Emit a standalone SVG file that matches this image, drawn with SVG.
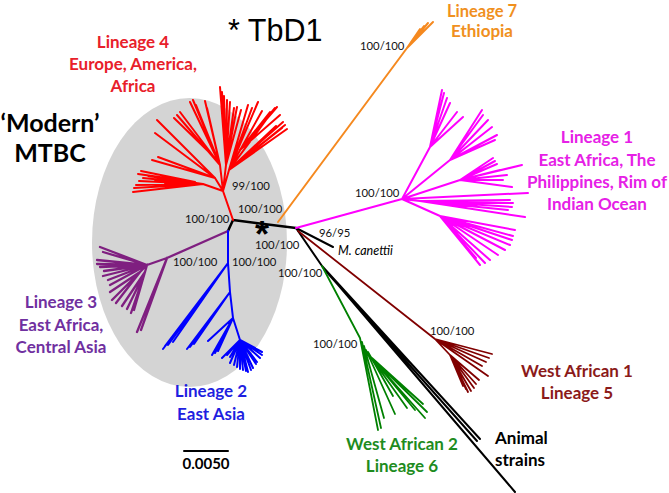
<svg xmlns="http://www.w3.org/2000/svg" width="669" height="493" viewBox="0 0 669 493">
<style>
.lbl{font-family:Lato,"Liberation Sans",sans-serif;font-weight:bold;font-size:17px;text-anchor:middle}
.bs{font-family:Lato,"Liberation Sans",sans-serif;font-size:11.3px;fill:#111}
.br{fill:none;stroke-linecap:round;stroke-linejoin:round}
</style>
<rect width="669" height="493" fill="#ffffff"/>
<ellipse id="modern-mtbc-area" cx="189.5" cy="242.5" rx="97.5" ry="144.5" fill="#d4d4d4"/>
<g id="title"><text x="228" y="41" font-family="'Liberation Sans',Arial,sans-serif" font-size="30.5" fill="#000">* TbD1</text></g>
<g id="modern-label"><text class="lbl" x="50" y="132" style="font-size:25px" fill="#000">‘Modern’</text><text class="lbl" x="50" y="162" style="font-size:25px" fill="#000">MTBC</text></g>
<g id="connectors">
<g id="backbone" class="br" stroke="#000" stroke-width="2.5"><path d="M233,220 L296,228 M233,220 L228,231"/></g>
<g id="canettii-branch" class="br" stroke="#000" stroke-width="2"><path d="M296,228 L333,247"/></g>
<g id="animal-branch" class="br" stroke="#000" stroke-width="2"><path d="M296,228 L322,266 M322,266 L515,492 M322,266 L480,439 M324,269 L477,441"/></g>
<g id="lineage4-branches" class="br" stroke="#ff0000" stroke-width="2">
<path d="M233,220 L223,191
M223,191 L203,184 L133,192 M203,184 L134,188 M203,184 L136,185 M203,184 L139,181 M203,184 L143,178 M195,182 L138,174 M195,182 L141,171 M203,184 L148,176 M203,184 L155,180 M203,184 L165,184
M223,191 L215,178 L157,120 M215,178 L160,123 M215,178 L155,133 M215,178 L158,157 M215,178 L152,160
M223,191 L220,165 L177,115 M220,165 L180,112 M212,155 L174,118 M220,165 L190,102 M220,165 L193,100 M220,165 L196,105 M220,165 L205,101 M220,165 L207,108
M223,191 L226,165 L220,87 M226,165 L222,92 M226,165 L224,96 M226,165 L227,100 M226,165 L230,102 M226,165 L234,108 M226,165 L237,107 M226,165 L241,110
M223,191 L229,170 L248,105 M229,170 L252,108 M229,170 L258,102 M229,170 L262,111 M240,150 L270,112 M240,150 L275,108 M240,150 L277,107 M240,150 L280,115 M229,170 L283,122 M229,170 L285,125 M229,170 L287,129 M229,170 L282,128 M229,170 L276,126 M229,170 L266,120"/>
</g>
<g id="lineage7-branches" class="br" stroke="#f5891f" stroke-width="2"><path d="M278,222 L407,48 L433,22 M407,48 L428,23 M407,48 L424,26 M407,48 L420,29"/></g>
<g id="lineage1-branches" class="br" stroke="#ff00ff" stroke-width="2">
<path d="M296,228 L402,199
M402,199 L430,147 L442,90 M430,147 L444,93 M430,147 L447,98 M430,147 L450,103 M430,147 L457,112 M430,147 L463,117
M402,199 L450,160 L482,110 M450,160 L483,115 M450,160 L488,120 M450,160 L492,127 M450,160 L497,135 M450,160 L495,140
M402,199 L460,180 L493,158 M460,180 L495,161 M460,180 L497,164 M460,180 L522,165 M460,180 L507,175 M460,180 L503,180 M460,180 L512,187 M460,180 L500,170
M402,199 L528,193
M402,199 L420,201 L510,200 M420,201 L513,203 M420,201 L512,207 M420,201 L525,217 M420,201 L508,210
M402,199 L440,216 L515,230 M440,216 L513,236 M440,216 L512,240 M440,216 L510,245 M440,216 L505,250 M440,216 L498,255 M440,216 L490,260 M440,216 L485,263 M440,216 L480,265 M440,216 L476,258"/>
</g>
<g id="lineage5-branches" class="br" stroke="#800000" stroke-width="1.8">
<path d="M298,231 L435,339 L492,354 M435,339 L489,358 M435,339 L486,362 M435,339 L482,366 M435,339 L488,376 M435,339 L450,355 L476,384 M450,355 L474,388 M450,355 L471,391 M450,355 L468,392 M450,355 L466,389 M450,355 L463,386 M450,355 L479,380"/>
</g>
<g id="lineage6-branches" class="br" stroke="#008000" stroke-width="1.8">
<path d="M322,266 L360,338 L378,430 M362,342 L381,428 M364,346 L384,418 M366,350 L395,414 M368,352 L393,396 M370,356 L425,418 M372,358 L427,412 M372,358 L423,404 M371,357 L415,410 M370,356 L407,408"/>
</g>
<g id="lineage3-branches" class="br" stroke="#7f1f80" stroke-width="2.3">
<path d="M228,231 L167,258 L147,265
M147,265 L100,247 M147,265 L103,252 M147,265 L97,260 M147,265 L97,264 M147,265 L100,267 M147,265 L104,271 M147,265 L103,276 M147,265 L108,280 M147,265 L110,285
M147,265 L140,272 L112,300 M140,272 L116,303 M140,272 L110,292
M147,265 L145,272 L122,306 M145,272 L127,309 M145,272 L131,313 M145,272 L134,310
M167,258 L137,332 M167,258 L141,330"/>
</g>
<g id="lineage2-branches" class="br" stroke="#0000ff" stroke-width="2">
<path d="M228,231 L228,263 L230,292 L233,318 L240,340
M228,263 L163,349 M228,263 L165,346 M228,263 L168,345 M228,263 L173,342
M230,292 L187,349 M230,292 L190,347 M230,292 L194,344
M233,318 L208,341 M233,318 L212,355 M233,318 L215,353 M233,318 L218,351
M240,340 L222,358 M240,340 L227,355 M240,340 L230,357 M240,340 L230,363 M240,340 L234,365 M240,340 L237,367 M240,340 L240,369 M240,340 L243,370 M240,340 L246,371 M240,340 L248,372 M240,340 L251,370 M240,340 L253,368 M240,340 L256,364 M240,340 L257,362 M240,340 L260,358 M240,340 L262,355 M240,340 L262,352 M240,340 L258,350 M240,340 L255,348"/>
</g>
<g id="scale-bar" class="br" stroke="#000" stroke-width="2"><path d="M184,451 L228,451"/></g>
</g>
<g id="tbd1-marker"><text x="262" y="247" font-family="'Liberation Sans',Arial,sans-serif" font-weight="bold" font-size="36" text-anchor="middle" fill="#000">*</text></g>
<g id="bootstrap-labels">
<text class="bs" x="360" y="50">100/100</text>
<text class="bs" x="355" y="197">100/100</text>
<text class="bs" x="232" y="190">99/100</text>
<text class="bs" x="238" y="213">100/100</text>
<text class="bs" x="185" y="223">100/100</text>
<text class="bs" x="255" y="249">100/100</text>
<text class="bs" x="319" y="237">96/95</text>
<text class="bs" x="173" y="266">100/100</text>
<text class="bs" x="232" y="266">100/100</text>
<text class="bs" x="278" y="277">100/100</text>
<text class="bs" x="313" y="348">100/100</text>
<text class="bs" x="430" y="335">100/100</text>
</g>
<g id="canettii"><text x="338" y="255" font-family="Lato,'Liberation Sans',sans-serif" font-style="italic" font-size="12.5" fill="#000">M. canettii</text></g>
<g id="lineage4" fill="#e8202a"><text class="lbl" x="133" y="48">Lineage 4</text><text class="lbl" x="133" y="70">Europe, America,</text><text class="lbl" x="133" y="92">Africa</text></g>
<g id="lineage7" fill="#f0901e"><text class="lbl" x="482" y="16.5" style="font-size:16.5px">Lineage 7</text><text class="lbl" x="482" y="37">Ethiopia</text></g>
<g id="lineage1" fill="#e620e6"><text class="lbl" x="597" y="143">Lineage 1</text><text class="lbl" x="597" y="166">East Africa, The</text><text class="lbl" x="597" y="188">Philippines, Rim of</text><text class="lbl" x="597" y="210">Indian Ocean</text></g>
<g id="lineage3" fill="#7030a0"><text class="lbl" x="61" y="308">Lineage 3</text><text class="lbl" x="61" y="331">East Africa,</text><text class="lbl" x="61" y="353">Central Asia</text></g>
<g id="lineage2" fill="#1f1fe0"><text class="lbl" x="211" y="397">Lineage 2</text><text class="lbl" x="211" y="420">East Asia</text></g>
<g id="lineage5" fill="#8b1a1a"><text class="lbl" x="577" y="377">West African 1</text><text class="lbl" x="577" y="399">Lineage 5</text></g>
<g id="lineage6" fill="#1e8c1e"><text class="lbl" x="402" y="450">West African 2</text><text class="lbl" x="402" y="472">Lineage 6</text></g>
<g id="animal" fill="#000"><text class="lbl" x="495" y="444" style="text-anchor:start">Animal</text><text class="lbl" x="495" y="466" style="text-anchor:start">strains</text></g>
<g id="scale-label"><text class="lbl" x="206" y="469" style="font-size:15px" fill="#000">0.0050</text></g>
</svg>
